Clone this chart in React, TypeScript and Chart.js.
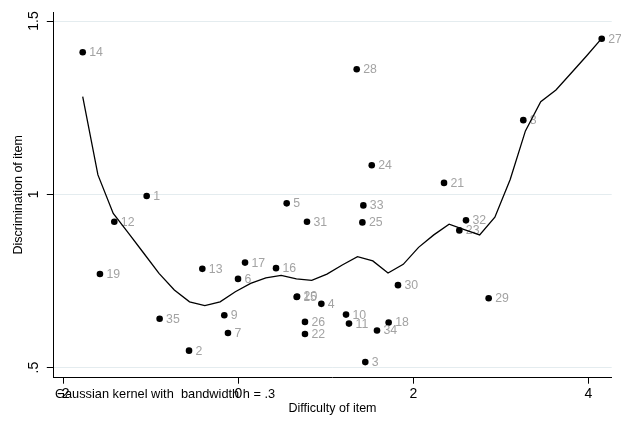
import React, { useEffect, useRef } from "react";
import { Chart, registerables } from "chart.js";

Chart.register(...registerables);

const itemIds = [
  "1", "2", "3", "4", "5", "6", "7", "8", "9", "10", "11", "12", "13", "14", "15", "16", "17", "18",
  "19", "20", "21", "22", "23", "24", "25", "26", "27", "28", "29", "30", "31", "32", "33", "34", "35",
];
const difficulty = [
  -1.047, -0.563, 1.451, 0.949, 0.553, -0.003, -0.118, 3.257, -0.16, 1.231, 1.265, -1.417, -0.411,
  -1.778, 0.667, 0.431, 0.077, 1.718, -1.581, 0.672, 2.351, 0.762, 2.526, 1.525, 1.418, 0.762, 4.153,
  1.353, 2.861, 1.825, 0.785, 2.602, 1.429, 1.585, -0.899,
];
const discrimination = [
  0.995, 0.549, 0.516, 0.684, 0.974, 0.756, 0.6, 1.214, 0.651, 0.653, 0.627, 0.921, 0.785, 1.41,
  0.704, 0.787, 0.803, 0.63, 0.77, 0.705, 1.033, 0.597, 0.896, 1.084, 0.919, 0.632, 1.449, 1.361,
  0.7, 0.738, 0.921, 0.925, 0.968, 0.607, 0.641,
];

const smoothX = [
  -1.778, -1.604, -1.429, -1.255, -1.08, -0.906, -0.731, -0.557, -0.382, -0.208, -0.034, 0.141,
  0.315, 0.49, 0.664, 0.839, 1.013, 1.188, 1.362, 1.537, 1.711, 1.885, 2.06, 2.234, 2.409, 2.583,
  2.758, 2.932, 3.107, 3.281, 3.456, 3.63, 3.805, 3.979, 4.153,
];
const smoothY = [
  1.282, 1.056, 0.945, 0.888, 0.83, 0.772, 0.724, 0.69, 0.679, 0.69, 0.719, 0.743, 0.759, 0.766,
  0.756, 0.752, 0.77, 0.796, 0.82, 0.808, 0.773, 0.798, 0.847, 0.883, 0.914, 0.898, 0.883, 0.934,
  1.043, 1.183, 1.267, 1.301, 1.35, 1.399, 1.45,
];

const xTicks = [-2, 0, 2, 4];
const yTicks = [0.5, 1, 1.5];
const yTickLabels = [".5", "1", "1.5"];

const xTitle = "Difficulty of item";
const yTitle = "Discrimination of item";
const noteText = "Gaussian kernel with  bandwidth h = .3";

const FONT = "'Liberation Sans', Arial, Helvetica, sans-serif";

export default function App() {
  const ref = useRef<HTMLCanvasElement>(null);

  useEffect(() => {
    document.body.style.margin = "0";
    const canvas = ref.current;
    if (!canvas) return;

    const labelPlugin = {
      id: "pointLabels",
      afterDatasetDraw(chart: any, args: any) {
        if (args.index !== 1) return;
        const ctx = chart.ctx;
        const meta = chart.getDatasetMeta(1);
        ctx.save();
        ctx.font = `12.3px ${FONT}`;
        ctx.fillStyle = "#a3a3a3";
        ctx.textAlign = "left";
        ctx.textBaseline = "middle";
        meta.data.forEach((pt: any, i: number) => {
          ctx.fillText(itemIds[i], pt.x + 6.5, pt.y + 0.5);
        });
        ctx.restore();
      },
      afterDraw(chart: any) {
        const ctx = chart.ctx;
        const ys = chart.scales.y;
        ctx.save();
        ctx.font = `14px ${FONT}`;
        ctx.fillStyle = "#000";
        ctx.textAlign = "center";
        ctx.textBaseline = "alphabetic";
        yTicks.forEach((v, i) => {
          const py = ys.getPixelForValue(v);
          ctx.save();
          ctx.translate(37.5, py);
          ctx.rotate(-Math.PI / 2);
          ctx.fillText(yTickLabels[i], 0, 0);
          ctx.restore();
        });
        ctx.font = `12.8px ${FONT}`;
        ctx.textAlign = "left";
        ctx.textBaseline = "middle";
        ctx.fillText(noteText, 55, 394);
        ctx.restore();
      },
    };

    const chart = new Chart(canvas, {
      type: "scatter",
      data: {
        datasets: [
          {
            data: smoothX.map((x, i) => ({ x, y: smoothY[i] })),
            showLine: true,
            borderColor: "#000",
            borderWidth: 1.3,
            pointRadius: 0,
            tension: 0,
          } as any,
          {
            data: difficulty.map((x, i) => ({ x, y: discrimination[i] })),
            showLine: false,
            pointRadius: 3.3,
            pointBackgroundColor: "#000",
            pointBorderWidth: 0,
            backgroundColor: "#000",
          },
        ],
      },
      options: {
        animation: false,
        responsive: false,
        devicePixelRatio: 1,
        layout: { padding: { left: 0, right: 9.3, top: 12, bottom: 0 } },
        plugins: { legend: { display: false }, tooltip: { enabled: false } },
        scales: {
          x: {
            type: "linear",
            min: -2.114,
            max: 4.267,
            afterBuildTicks: (s: any) => {
              s.ticks = xTicks.map((v) => ({ value: v }));
            },
            afterFit: (s: any) => {
              s.height = 45.3;
            },
            ticks: {
              font: { family: FONT, size: 14 },
              color: "#000",
              padding: 2,
              maxRotation: 0,
              callback: (v: any) => String(v),
            },
            grid: {
              drawOnChartArea: false,
              drawTicks: true,
              tickLength: 6,
              tickColor: "#000",
              tickWidth: 1,
            },
            border: { display: true, color: "#000", width: 1 },
            title: {
              display: true,
              text: xTitle,
              color: "#000",
              font: { family: FONT, size: 12.5 },
              padding: { top: 0, bottom: 7 },
            },
          },
          y: {
            type: "linear",
            min: 0.471,
            max: 1.526,
            afterBuildTicks: (s: any) => {
              s.ticks = yTicks.map((v) => ({ value: v }));
            },
            afterFit: (s: any) => {
              s.width = 53.3;
            },
            ticks: {
              color: "rgba(0,0,0,0)",
              font: { family: FONT, size: 14 },
            },
            grid: {
              color: "#e4ecef",
              lineWidth: 1,
              drawTicks: true,
              tickLength: 6.5,
              tickColor: "#000",
              tickWidth: 1,
            },
            border: { display: true, color: "#000", width: 1 },
            title: {
              display: true,
              text: yTitle,
              color: "#000",
              font: { family: FONT, size: 12.5 },
              padding: { top: 11.5, bottom: 0 },
            },
          },
        },
      },
      plugins: [labelPlugin],
    });

    return () => chart.destroy();
  }, []);

  return (
    <div style={{ width: 621, height: 423, background: "#fff" }}>
      <canvas ref={ref} width={621} height={423} />
    </div>
  );
}
